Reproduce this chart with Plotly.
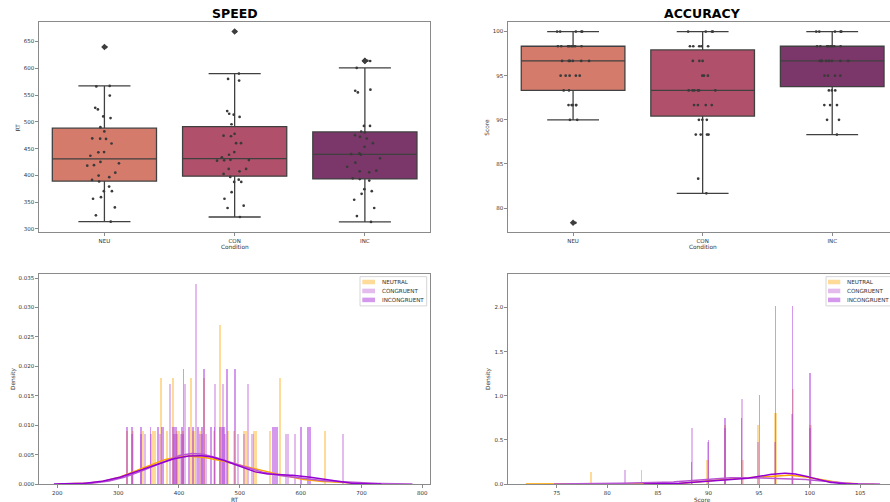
import numpy as np
import plotly.graph_objects as go

# ---------------- data ----------------
conditions = ["NEU", "CON", "INC"]
hist_labels = ["NEUTRAL", "CONGRUENT", "INCONGRUENT"]

neu_rt = [639.5, 567, 566, 549, 526, 523, 510, 507, 490, 482, 469, 468.5, 468, 459.5,
          443.5, 443, 436.6, 425, 422.5, 419, 418, 405, 399.5, 396.5, 391.5, 388.5,
          379, 370.5, 370.5, 359.3, 356.3, 340.2, 325.3, 313.5]
con_rt = [668.5, 590, 580, 577, 520, 515, 513.3, 509, 495.4, 477.5, 474, 473, 460, 460,
          443.5, 438.5, 433.6, 429, 428.5, 428, 427.4, 412, 412, 407.6, 402.6, 397, 392,
          387.8, 387.8, 368.6, 356.3, 343.3, 339, 322.2]
inc_rt = [614, 613.5, 600.5, 560, 558, 554.8, 492.3, 492.3, 481.5, 480, 475, 472, 468.8,
          460, 453.3, 441, 439.7, 438.5, 431.7, 423.6, 416, 408.8, 407.6, 405.7, 394.5,
          393, 390.3, 374.2, 370.5, 365.5, 354.4, 339, 324, 313]

neu_score = [100, 100, 100, 100, 100,
             98.33, 98.33, 98.33, 98.33, 98.33, 98.33, 98.33, 98.33,
             96.67, 96.67, 96.67, 96.67, 96.67, 96.67,
             95, 95, 95, 95, 95,
             93.33, 93.33,
             91.67, 91.67, 91.67, 91.67, 91.67,
             90, 90,
             78.33]
con_score = [100, 100, 100, 100,
             98.33, 98.33, 98.33, 98.33, 98.33,
             96.67, 96.67, 96.67,
             95, 95, 95,
             93.33, 93.33, 93.33, 93.33, 93.33, 93.33,
             91.67, 91.67, 91.67, 91.67,
             90, 90, 90,
             88.33, 88.33, 88.33, 88.33,
             83.33, 81.67]
inc_score = [100, 100, 100, 100, 100,
             98.33, 98.33, 98.33, 98.33, 98.33, 98.33, 98.33, 98.33,
             96.67, 96.67, 96.67, 96.67, 96.67, 96.67, 96.67, 96.67,
             95, 95, 95, 95,
             93.33, 93.33, 93.33,
             91.67, 91.67, 91.67,
             90, 90,
             88.33]

rt_data = [neu_rt, con_rt, inc_rt]
score_data = [neu_score, con_score, inc_score]

# ---------------- styles ----------------
W, H = 890, 502
box_colors = ["#D47B6B", "#B0506B", "#7B3769"]
hist_colors = ["rgba(255,165,0,0.4)", "rgba(186,85,211,0.4)", "rgba(148,0,211,0.4)"]
kde_colors = ["#FFA500", "#BA55D3", "#9400D3"]
box_line = "#404040"
axis_col = "#8a8a8a"
FONT = "DejaVu Sans"
TICK = dict(family=FONT, size=5.5, color="#333333")


def px(x):
    return x / W


def py(y):
    return 1 - y / H


def box_stats(v):
    v = np.asarray(v, float)
    q1, med, q3 = np.percentile(v, [25, 50, 75])
    iqr = q3 - q1
    lo_lim, hi_lim = q1 - 1.5 * iqr, q3 + 1.5 * iqr
    inside = v[(v >= lo_lim) & (v <= hi_lim)]
    out = v[(v < lo_lim) | (v > hi_lim)]
    return q1, med, q3, inside.min(), inside.max(), out


def kde(v):
    v = np.asarray(v, float)
    n = len(v)
    bw = v.std(ddof=1) * n ** (-0.2)
    grid = np.linspace(v.min() - 3 * bw, v.max() + 3 * bw, 200)
    dens = np.exp(-0.5 * ((grid[:, None] - v[None, :]) / bw) ** 2).sum(1) / (n * bw * np.sqrt(2 * np.pi))
    return grid, dens


fig = go.Figure()

# ---------------- box + strip plots ----------------
for (data, xa, ya) in [(rt_data, "x", "y"), (score_data, "x2", "y2")]:
    for cond, vals, col in zip(conditions, data, box_colors):
        q1, med, q3, lf, uf, out = box_stats(vals)
        fig.add_trace(go.Box(
            x=[cond], q1=[q1], median=[med], q3=[q3], lowerfence=[lf], upperfence=[uf],
            fillcolor=col, line=dict(color=box_line, width=1.3), width=0.8, whiskerwidth=0.5,
            boxpoints=False, showlegend=False, hoverinfo="skip", xaxis=xa, yaxis=ya))
    for cond, vals in zip(conditions, data):
        q1, med, q3, lf, uf, out = box_stats(vals)
        if len(out):
            fig.add_trace(go.Scatter(
                x=[cond] * len(out), y=out, mode="markers",
                marker=dict(symbol="diamond", size=5, color="#3d3d3d"),
                showlegend=False, xaxis=xa, yaxis=ya))
    for cond, vals in zip(conditions, data):
        fig.add_trace(go.Box(
            x=[cond] * len(vals), y=vals, boxpoints="all", jitter=0.35, pointpos=0,
            width=0.8, fillcolor="rgba(0,0,0,0)", line=dict(color="rgba(0,0,0,0)", width=0),
            marker=dict(color="#3a3a3a", size=2.7), showlegend=False, xaxis=xa, yaxis=ya))

# ---------------- histograms + kde ----------------
for (data, xa, ya) in [(rt_data, "x3", "y3"), (score_data, "x4", "y4")]:
    for lab, vals, hc, kc in zip(hist_labels, data, hist_colors, kde_colors):
        lo, hi = min(vals), max(vals)
        size = (hi - lo) / 100
        fig.add_trace(go.Histogram(
            x=vals, histnorm="probability density",
            xbins=dict(start=lo, end=hi + size, size=size),
            marker=dict(color=hc, line=dict(width=0)), name=lab,
            showlegend=False, xaxis=xa, yaxis=ya))
    for lab, vals, hc, kc in zip(hist_labels, data, hist_colors, kde_colors):
        g, d = kde(vals)
        fig.add_trace(go.Scatter(x=g, y=d, mode="lines", line=dict(color=kc, width=1.5),
                                 showlegend=False, xaxis=xa, yaxis=ya))

# ---------------- axes ----------------
L1, R1 = px(39.3), px(430)
L2, R2 = px(508.3), 1.0
TOPD = [py(233.3), py(22.3)]
BOTD = [py(487), py(275.3)]

common = dict(showgrid=False, zeroline=False, showline=True, linecolor=axis_col, linewidth=1,
              ticks="outside", ticklen=3, tickwidth=1, tickcolor=axis_col, tickfont=TICK)

fig.update_layout(
    xaxis=dict(domain=[L1, R1], anchor="y", type="category", categoryorder="array",
               categoryarray=conditions, range=[-0.5, 2.5], mirror=True, **common),
    yaxis=dict(domain=TOPD, anchor="x", range=[294.4, 686], tickmode="array",
               tickvals=[300, 350, 400, 450, 500, 550, 600, 650], mirror=True, **common),
    xaxis2=dict(domain=[L2, R2], anchor="y2", type="category", categoryorder="array",
                categoryarray=conditions, range=[-0.5, 2.446], mirror=True, **common),
    yaxis2=dict(domain=TOPD, anchor="x2", range=[77.3, 101.06], tickmode="array",
                tickvals=[80, 85, 90, 95, 100], mirror=False, **common),
    xaxis3=dict(domain=[L1, R1], anchor="y3", range=[170.4, 812.6], tickmode="array",
                tickvals=[200, 300, 400, 500, 600, 700, 800], mirror=True, **common),
    yaxis3=dict(domain=BOTD, anchor="x3", range=[0, 0.03574], tickmode="array",
                tickvals=[0, 0.005, 0.01, 0.015, 0.02, 0.025, 0.03, 0.035], tickformat=".3f",
                mirror=True, **common),
    xaxis4=dict(domain=[L2, R2], anchor="y4", range=[70.22, 107.93], tickmode="array",
                tickvals=[75, 80, 85, 90, 95, 100, 105], mirror=True, **common),
    yaxis4=dict(domain=BOTD, anchor="x4", range=[0, 2.383], tickmode="array",
                tickvals=[0, 0.5, 1.0, 1.5, 2.0], tickformat=".1f", mirror=False, **common),
    boxmode="overlay", barmode="overlay", bargap=0,
    width=W, height=H, margin=dict(l=0, r=0, t=0, b=0),
    paper_bgcolor="white", plot_bgcolor="white", showlegend=False,
    font=dict(family=FONT, color="#333333"),
)

# ---------------- texts ----------------
ann = []
LAB = dict(family=FONT, size=5.8, color="#333333")
P = dict(xref="paper", yref="paper", showarrow=False)
ann.append(dict(x=px(234.7), y=py(14), text="<b>SPEED</b>",
                font=dict(family=FONT, size=12.5, color="black"), xanchor="center", yanchor="middle", **P))
ann.append(dict(x=px(702.7), y=py(14), text="<b>ACCURACY</b>",
                font=dict(family=FONT, size=12.5, color="black"), xanchor="center", yanchor="middle", **P))
for (x, y, t, rot) in [(18.3, 127.8, "RT", -90), (234.7, 248.5, "Condition", 0),
                       (486.7, 127.8, "Score", -90), (702.7, 248.5, "Condition", 0),
                       (13.3, 381, "Density", -90), (488.3, 381, "Density", -90),
                       (234.7, 503, "RT", 0), (702.7, 503, "Score", 0)]:
    ann.append(dict(x=px(x), y=py(y), text=t, font=LAB, textangle=rot,
                    xanchor="center", yanchor="middle", **P))

shapes = []
for (bx0, bx1, pat0, pat1, tx) in [(360, 426.7, 362.3, 375, 380), (826, 900, 828, 840.3, 844.5)]:
    shapes.append(dict(type="rect", xref="paper", yref="paper", x0=px(bx0), x1=px(bx1),
                       y0=py(307.7), y1=py(278.3), line=dict(color="#d6d6d6", width=1),
                       fillcolor="rgba(255,255,255,0.8)", layer="above"))
    for i, (lab, hc) in enumerate(zip(hist_labels, hist_colors)):
        yc = 283.7 + 9 * i
        shapes.append(dict(type="rect", xref="paper", yref="paper", x0=px(pat0), x1=px(pat1),
                           y0=py(yc + 2.3), y1=py(yc - 2.3), line=dict(width=0),
                           fillcolor=hc, layer="above"))
        ann.append(dict(x=px(tx), y=py(yc), text=lab, xanchor="left",
                        yanchor="middle", font=dict(family=FONT, size=5.6, color="#333333"), **P))

fig.update_layout(annotations=ann, shapes=shapes)
fig.write_html("out.html")
